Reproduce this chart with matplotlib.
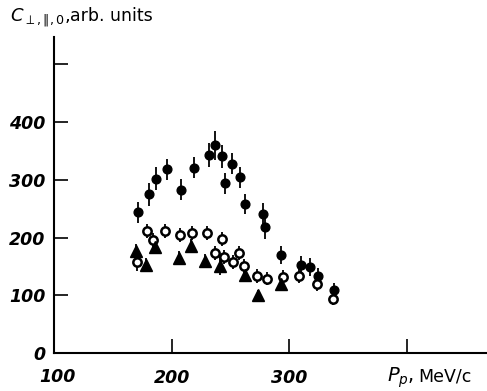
import matplotlib
matplotlib.use("Agg")
import matplotlib.pyplot as plt

# filled circles
x_fill = [171.7, 180.9, 186.6, 195.6, 207.8, 218.6, 231.3, 237.0, 242.7, 245.5,
          251.2, 258.3, 262.6, 277.3, 279.0, 293.0, 310.2, 317.9, 324.4, 338.0]
y_fill = [244, 275, 302, 318, 283, 321, 343, 360, 341, 294,
          328, 304, 258, 240, 218, 170, 153, 149, 133, 109]
e_fill = [18, 20, 20, 18, 18, 18, 20, 25, 20, 18,
          18, 18, 18, 20, 20, 15, 15, 15, 15, 12]

# open circles
x_open = [170.5, 178.9, 184.5, 194.5, 206.9, 217.4, 229.6, 242.7, 236.4, 244.1,
          251.9, 257.6, 261.7, 272.9, 281.0, 294.3, 308.3, 323.1, 337.0]
y_open = [157, 212, 196, 211, 205, 208, 208, 198, 174, 167,
          158, 174, 151, 134, 129, 131, 133, 119, 93]
e_open = [15, 12, 12, 12, 12, 12, 12, 12, 12, 12,
          12, 12, 12, 12, 12, 12, 12, 12, 10]

# triangles
x_tri = [170.0, 178.1, 186.0, 205.8, 216.8, 228.5, 241.3, 262.0, 273.2, 292.8]
y_tri = [177, 153, 184, 164, 185, 160, 151, 136, 100, 119]
e_tri = [12, 12, 12, 12, 12, 12, 15, 12, 10, 12]

x_ticks = [200, 300, 400]
x_ticklabels = ["200", "300", ""]
y_ticks = [0, 100, 200, 300, 400, 500]
y_ticklabels = ["0", "100", "200", "300", "400", ""]

fig = plt.figure(figsize=(4.87, 3.91), dpi=100)
ax = fig.add_axes([0.111, 0.097, 0.889, 0.808])

kw = dict(ls="none", ecolor="black", elinewidth=1.3, capsize=0)
ax.errorbar(x_fill, y_fill, yerr=e_fill, fmt="o", ms=6.3, mfc="black", mec="black", **kw)
ax.errorbar(x_open, y_open, yerr=e_open, fmt="o", ms=6, mfc="white", mec="black", mew=1.8, **kw)
ax.errorbar(x_tri, y_tri, yerr=e_tri, fmt="^", ms=8, mfc="black", mec="black", **kw)

ax.set_xlim(100, 468)
ax.set_ylim(0, 547)
ax.spines["top"].set_visible(False)
ax.spines["right"].set_visible(False)
for s in ("left", "bottom"):
    ax.spines[s].set_linewidth(1.5)

ax.set_xticks(x_ticks)
ax.set_xticklabels(x_ticklabels)
ax.set_yticks(y_ticks)
ax.set_yticklabels(y_ticklabels)
ax.tick_params(direction="in", length=10, width=1.2, labelsize=12.5)
ax.tick_params(axis="x", pad=11.5)
ax.tick_params(axis="y", pad=6)
for lab in ax.get_xticklabels() + ax.get_yticklabels():
    lab.set_fontstyle("italic")
    lab.set_fontweight("bold")

ax.annotate("100", xy=(100, 0), xycoords="data", xytext=(2.5, -17.5), textcoords="offset points",
            ha="center", va="center", fontsize=12.5, fontstyle="italic",
            fontweight="bold", annotation_clip=False)

fig.text(0.02, 0.955, r"$\mathbf{\mathit{C}}_{\perp,\Vert,0},$", fontsize=13, va="center", ha="left")
fig.text(0.143, 0.958, "arb. units", fontsize=12.5, va="center", ha="left")
fig.text(0.795, 0.035, r"$\mathit{P}_{p},$", fontsize=14, va="center", ha="left")
fig.text(0.858, 0.037, "MeV/c", fontsize=12.5, va="center", ha="left")

fig.savefig("out.png", dpi=100)
